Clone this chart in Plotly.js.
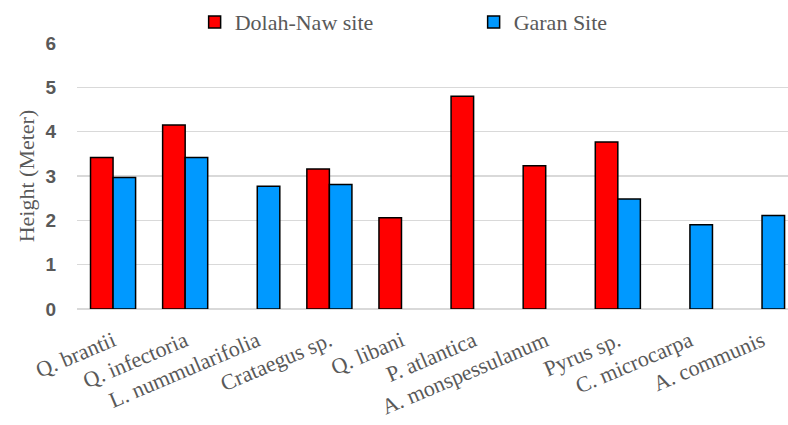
<!DOCTYPE html>
<html>
<head>
<meta charset="utf-8">
<script src="https://cdn.plot.ly/plotly-3.0.1.min.js"></script>
<style>html,body{margin:0;padding:0;background:#fff;}#chart{width:788px;height:425px;}</style>
</head>
<body>
<div id="chart"></div>
<script>
const categories = ["Q. brantii", "Q. infectoria", "L. nummularifolia", "Crataegus sp.", "Q. libani", "P. atlantica", "A. monspessulanum", "Pyrus sp.", "C. microcarpa", "A. communis"];
const dolahNaw = [3.42, 4.15, null, 3.16, 2.06, 4.80, 3.23, 3.77, null, null];
const garan = [2.97, 3.42, 2.77, 2.81, null, null, null, 2.48, 1.90, 2.11];
const seriesNames = ["Dolah-Naw site", "Garan Site"];
const yTicks = [0, 1, 2, 3, 4, 5, 6];

const serif = "Liberation Serif, Times New Roman, serif";
const traces = [
  {type: "bar", name: seriesNames[0], x: categories, y: dolahNaw,
   marker: {color: "#ff0000", line: {color: "#000000", width: 1.5}}},
  {type: "bar", name: seriesNames[1], x: categories, y: garan,
   marker: {color: "#0099ff", line: {color: "#000000", width: 1.5}}}
];
const layout = {
  width: 788, height: 425,
  margin: {l: 77, r: 0, t: 42, b: 116},
  paper_bgcolor: "#ffffff", plot_bgcolor: "#ffffff",
  barmode: "group", bargap: 0.375, bargroupgap: 0,
  showlegend: true,
  legend: {orientation: "h", xref: "container", yref: "container", x: 0.247, y: 0.948,
           xanchor: "left", yanchor: "middle", entrywidth: 234, entrywidthmode: "pixels",
           font: {family: serif, size: 22, color: "#595959"}, itemwidth: 30},
  xaxis: {type: "category", range: [-0.5, 9.36], tickangle: -23, showgrid: false,
          showline: false, ticks: "", zeroline: false, ticklabelstandoff: 14,
          tickfont: {family: serif, size: 22, color: "#595959"}},
  yaxis: {range: [0, 6], tickvals: yTicks, showgrid: true, gridcolor: "#d9d9d9", gridwidth: 1.2,
          zeroline: true, zerolinecolor: "#d9d9d9", zerolinewidth: 1.2, showline: false, ticks: "",
          ticklabelstandoff: 20,
          tickfont: {family: "Liberation Sans Narrow, Arial Narrow, sans-serif", size: 19, color: "#595959", weight: "bold"},
          title: {text: "Height (Meter)", standoff: 4, font: {family: serif, size: 22, color: "#595959"}}}
};
Plotly.newPlot("chart", traces, layout, {displayModeBar: false, staticPlot: true});
</script>
</body>
</html>
